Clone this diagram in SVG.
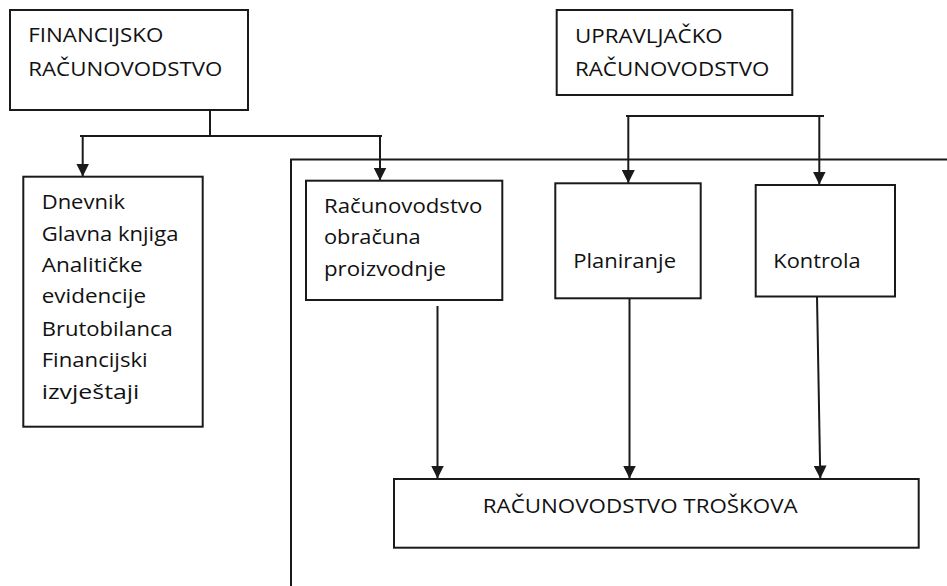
<svg xmlns="http://www.w3.org/2000/svg" width="947" height="586" viewBox="0 0 947 586">
  <style>
    .box { fill: #ffffff; stroke: #1a1a1a; stroke-width: 2; }
    .ln { fill: none; stroke: #1a1a1a; stroke-width: 2; }
    .t { font-family: "Open Sans", "Liberation Sans", sans-serif; font-size: 20.5px; fill: #111111; }
  </style>
  <defs>
    <marker id="arr" markerUnits="userSpaceOnUse" viewBox="0 0 12 12" markerWidth="13" markerHeight="13" refX="12" refY="6" orient="auto">
      <path d="M0,0 L12,6 L0,12 z" fill="#1a1a1a"/>
    </marker>
  </defs>
  <rect width="947" height="586" fill="#ffffff"/>

  <g id="connectors">
    <polyline class="ln" points="947,159.5 291,159.5 291,586"/>
    <line class="ln" x1="210" y1="110" x2="210" y2="136"/>
    <line class="ln" x1="80" y1="136" x2="382" y2="136"/>
    <line class="ln" x1="82.7" y1="136" x2="82.7" y2="176.5" marker-end="url(#arr)"/>
    <line class="ln" x1="380" y1="136" x2="380" y2="180.5" marker-end="url(#arr)"/>
    <line class="ln" x1="626" y1="116" x2="824" y2="116"/>
    <line class="ln" x1="628.3" y1="116" x2="628.3" y2="183" marker-end="url(#arr)"/>
    <line class="ln" x1="819.3" y1="116" x2="819.3" y2="184.5" marker-end="url(#arr)"/>
    <line class="ln" x1="437.5" y1="306" x2="437.5" y2="478.5" marker-end="url(#arr)"/>
    <line class="ln" x1="629.5" y1="298" x2="629.5" y2="478.5" marker-end="url(#arr)"/>
    <line class="ln" x1="817" y1="296.5" x2="820.3" y2="478.5" marker-end="url(#arr)"/>
  </g>

  <g id="financijsko">
    <rect class="box" x="10" y="10" width="238" height="100"/>
    <text class="t" x="28.3" y="42.3" textLength="135" lengthAdjust="spacingAndGlyphs">FINANCIJSKO</text>
    <text class="t" x="28.3" y="76" textLength="194" lengthAdjust="spacingAndGlyphs">RAČUNOVODSTVO</text>
  </g>

  <g id="upravljacko">
    <rect class="box" x="556.7" y="10" width="235.6" height="85"/>
    <text class="t" x="575" y="43.3" textLength="147.7" lengthAdjust="spacingAndGlyphs">UPRAVLJAČKO</text>
    <text class="t" x="575" y="76" textLength="194.3" lengthAdjust="spacingAndGlyphs">RAČUNOVODSTVO</text>
  </g>

  <g id="evidencije">
    <rect class="box" x="23.3" y="176.7" width="179.4" height="250"/>
    <text class="t" x="41.7" y="209.3" textLength="83.3" lengthAdjust="spacingAndGlyphs">Dnevnik</text>
    <text class="t" x="41.7" y="241" textLength="136.7" lengthAdjust="spacingAndGlyphs">Glavna knjiga</text>
    <text class="t" x="41.7" y="272.3" textLength="101" lengthAdjust="spacingAndGlyphs">Analitičke</text>
    <text class="t" x="41.7" y="303" textLength="104.3" lengthAdjust="spacingAndGlyphs">evidencije</text>
    <text class="t" x="41.7" y="335.7" textLength="131" lengthAdjust="spacingAndGlyphs">Brutobilanca</text>
    <text class="t" x="41.7" y="366.7" textLength="106" lengthAdjust="spacingAndGlyphs">Financijski</text>
    <text class="t" x="41.7" y="399" textLength="97.7" lengthAdjust="spacingAndGlyphs">izvještaji</text>
  </g>

  <g id="obracun">
    <rect class="box" x="306" y="180.7" width="196.3" height="119.3"/>
    <text class="t" x="324" y="213.3" textLength="158.3" lengthAdjust="spacingAndGlyphs">Računovodstvo</text>
    <text class="t" x="324" y="244" textLength="96.7" lengthAdjust="spacingAndGlyphs">obračuna</text>
    <text class="t" x="324" y="276" textLength="122" lengthAdjust="spacingAndGlyphs">proizvodnje</text>
  </g>

  <g id="planiranje">
    <rect class="box" x="555.3" y="183.3" width="145.4" height="115"/>
    <text class="t" x="573.3" y="268.3" textLength="102.7" lengthAdjust="spacingAndGlyphs">Planiranje</text>
  </g>

  <g id="kontrola">
    <rect class="box" x="755.7" y="185" width="139.3" height="111.5"/>
    <text class="t" x="773.3" y="268.3" textLength="87.3" lengthAdjust="spacingAndGlyphs">Kontrola</text>
  </g>

  <g id="troskovi">
    <rect class="box" x="394" y="479" width="524.7" height="68.7"/>
    <text class="t" x="482.7" y="513.3" textLength="315" lengthAdjust="spacingAndGlyphs">RAČUNOVODSTVO TROŠKOVA</text>
  </g>
</svg>
